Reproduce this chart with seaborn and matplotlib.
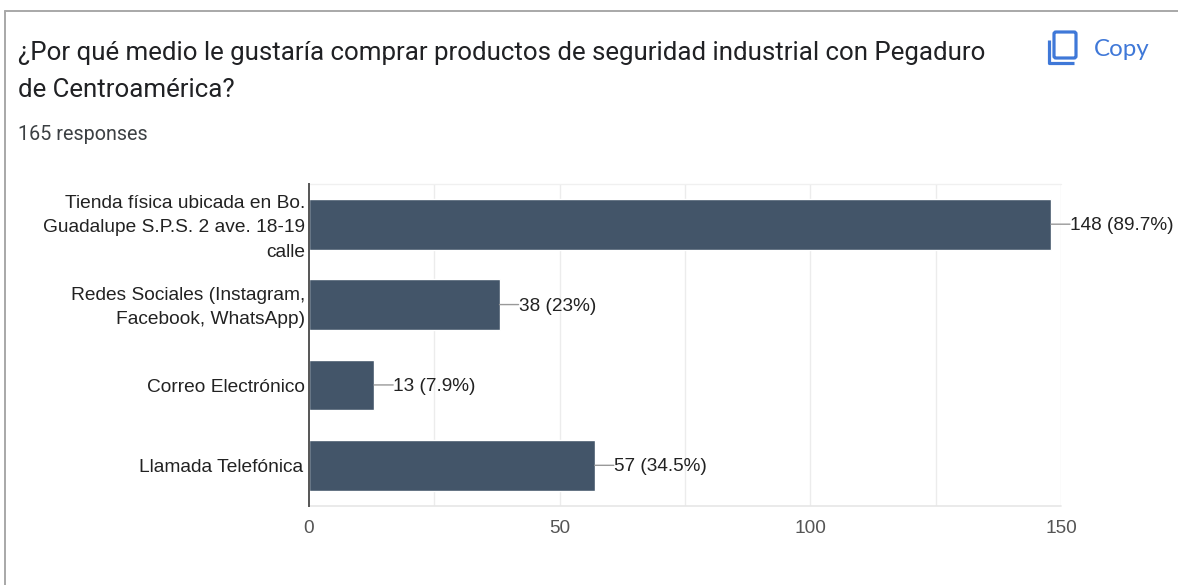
import matplotlib
matplotlib.use("Agg")
import matplotlib.pyplot as plt
from matplotlib.lines import Line2D
from matplotlib.patches import FancyBboxPatch, PathPatch
from matplotlib.path import Path
from matplotlib.transforms import Affine2D, ScaledTranslation
import seaborn as sns

categories = [
    "Tienda física ubicada en Bo.\nGuadalupe S.P.S. 2 ave. 18-19\ncalle",
    "Redes Sociales (Instagram,\nFacebook, WhatsApp)",
    "Correo Electrónico",
    "Llamada Telefónica",
]
counts = [148, 38, 13, 57]
shares = ["89.7%", "23%", "7.9%", "34.5%"]
x_ticks = [0, 50, 100, 150]
x_grid = [25, 50, 75, 100, 125, 150]

W, H = 1178, 585
BAR = "#435569"
INK = "#222222"

sns.set_theme(style="white")
plt.rcParams["font.family"] = ["Liberation Sans", "DejaVu Sans"]

fig = plt.figure(figsize=(W / 100, H / 100), dpi=100, facecolor="white")
ax = fig.add_axes([309 / W, 1 - 505.5 / H, (1061 - 309) / W, (505.5 - 184) / H])

sns.barplot(x=counts, y=categories, color=BAR, saturation=1, width=0.63,
            orient="h", ax=ax, zorder=3)
ax.set_xlim(0, 150)
ax.set_ylim(3.5, -0.5)

# Light vertical guides plus the frame of the plotting area
for g in x_grid:
    ax.axvline(g, color="#ececec", lw=1, zorder=0)
for side in ("top", "right", "bottom"):
    ax.spines[side].set_visible(False)
ax.axhline(-0.5, color="#f0f0f0", lw=1, zorder=0, clip_on=False)
ax.axhline(3.5, color="#e6e6e6", lw=1.2, zorder=0, clip_on=False)
ax.spines["left"].set_color("#555555")
ax.spines["left"].set_linewidth(1.4)
ax.spines["left"].set_zorder(5)

ax.set_xticks(x_ticks)
ax.set_xticklabels([str(t) for t in x_ticks], fontsize=13.7, color="#555555")
ax.tick_params(axis="x", length=0, pad=10.5)
ax.tick_params(axis="y", length=0, pad=3, labelsize=13.8, labelcolor=INK)

# Category labels: wrapped lines sit slightly above the bar centre
label_nudges = [(0, 2), (0, 3), (0, -1), (-2, 0)]
for lab, (dx, dy) in zip(ax.get_yticklabels(), label_nudges):
    lab.set_multialignment("right")
    lab.set_linespacing(1.56)
    lab.set_transform(lab.get_transform() + ScaledTranslation(dx / 100, dy / 100, fig.dpi_scale_trans))

# Value labels joined to the bars by short horizontal leader lines
for i, (n, s) in enumerate(zip(counts, shares)):
    ax.annotate("", xy=(n, i), xytext=(13.7, 0), textcoords="offset points",
                annotation_clip=False,
                arrowprops=dict(arrowstyle="-", color="#999999", lw=1, shrinkA=0, shrinkB=0))
    ax.annotate(f"{n} ({s})", xy=(n, i), xytext=(13.7, -1.2), textcoords="offset points",
                va="center", ha="left", fontsize=13.7, color=INK, annotation_clip=False)

# Card border, open on the right and along the bottom
for xs, ys in (([5, W], [11, 11]), ([5, 5], [11, H])):
    fig.add_artist(Line2D([x / W for x in xs], [1 - y / H for y in ys],
                          color="#a8a8a8", lw=1.4, transform=fig.transFigure))

# Heading block
fig.text(18 / W, 1 - 53 / H, "¿Por qué medio le gustaría comprar productos de seguridad industrial con Pegaduro",
         family="Roboto", fontsize=18.65, color="#202124", va="center", ha="left")
fig.text(18 / W, 1 - 90 / H, "de Centroamérica?",
         family="Roboto", fontsize=18.65, color="#202124", va="center", ha="left")
fig.text(18 / W, 1 - 134 / H, "165 responses",
         family="Roboto", fontsize=14.2, color="#3c4043", va="center", ha="left")

# Copy button: front sheet and the L-shaped edge of the sheet behind it
BLUE = "#3f78d8"
pixels = Affine2D().scale(1, -1).translate(0, H)
fig.add_artist(FancyBboxPatch((1054, 32), 22, 26, boxstyle="round,pad=0,rounding_size=2",
                              fill=False, ec=BLUE, lw=2.3, transform=pixels))
fig.add_artist(PathPatch(Path([(1048.5, 40), (1048.5, 63), (1074, 63)]),
                         fill=False, ec=BLUE, lw=2.3, joinstyle="round", transform=pixels))
fig.text(1094 / W, 1 - 49 / H, "Copy", family="Lato", fontsize=17.4, color=BLUE,
         va="center", ha="left")

fig.savefig("out.png", dpi=100, facecolor="white")
